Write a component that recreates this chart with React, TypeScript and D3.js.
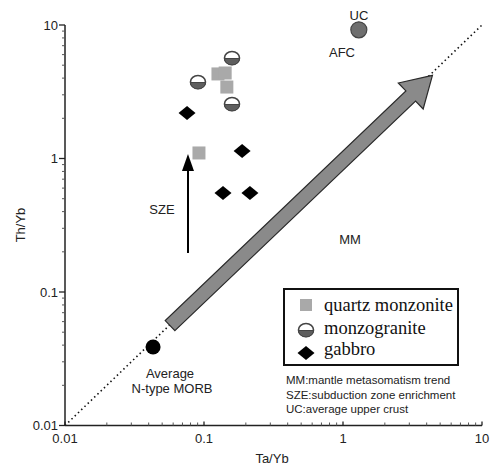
import * as d3 from "d3";

const quartzMonzonite: [number, number][] = [
  [0.126, 4.3],
  [0.142, 4.37],
  [0.146, 3.43],
  [0.092, 1.1],
];
const monzogranite: [number, number][] = [
  [0.159, 5.66],
  [0.0905, 3.74],
  [0.159, 2.56],
];
const gabbro: [number, number][] = [
  [0.0755, 2.19],
  [0.188, 1.14],
  [0.137, 0.552],
  [0.214, 0.552],
];
const upperCrust: [number, number] = [1.3, 9.2];
const nMorb: [number, number] = [0.043, 0.0387];
const mmTrend: [number, number][] = [
  [0.057, 0.056],
  [4.4, 4.2],
];
const szeTrend: [number, number][] = [
  [0.0767, 0.196],
  [0.0767, 1.08],
];
const majorTicks = [0.01, 0.1, 1, 10];
const tickLabels = ["0.01", "0.1", "1", "10"];
const legendItems = ["quartz monzonite", "monzogranite", "gabbro"];
const notes = [
  "MM:mantle metasomatism trend",
  "SZE:subduction zone enrichment",
  "UC:average upper crust",
];

const W = 490;
const H = 468;
const sans = "'Liberation Sans', Arial, sans-serif";
const serif = "'Liberation Serif', 'Times New Roman', serif";

const x = d3.scaleLog().domain([0.01, 10]).range([65, 482]);
const y = d3.scaleLog().domain([0.01, 10]).range([425.5, 25]);

const minorTicks: number[] = [];
[0.01, 0.1, 1].forEach((d) => {
  for (let k = 2; k <= 9; k++) minorTicks.push(d * k);
});

function Square({ cx, cy, s = 13 }: { cx: number; cy: number; s?: number }) {
  return (
    <rect x={cx - s / 2} y={cy - s / 2} width={s} height={s} fill="#a9a9a9" />
  );
}

function HalfDisc({ cx, cy }: { cx: number; cy: number }) {
  const rx = 7.5;
  const ry = 6.5;
  return (
    <g>
      <ellipse cx={cx} cy={cy} rx={rx} ry={ry} fill="#fff" stroke="#444" strokeWidth={1.6} />
      <path
        d={`M${cx - rx},${cy + 0.5} A${rx},${ry} 0 0 0 ${cx + rx},${cy + 0.5} Z`}
        fill="#5e5e5e"
        stroke="#444"
        strokeWidth={1}
      />
    </g>
  );
}

function Diamond({ cx, cy }: { cx: number; cy: number }) {
  const w = 8.5;
  const h = 7;
  return (
    <path
      d={`M${cx - w},${cy} L${cx},${cy - h} L${cx + w},${cy} L${cx},${cy + h} Z`}
      fill="#000"
    />
  );
}

function arrowPath(x0: number, y0: number, x1: number, y1: number) {
  const len = Math.hypot(x1 - x0, y1 - y0);
  const ux = (x1 - x0) / len;
  const uy = (y1 - y0) / len;
  const px = -uy;
  const py = ux;
  const sw = 7;
  const hw = 18;
  const hl = 30;
  const bx = x1 - ux * hl;
  const by = y1 - uy * hl;
  const pts = [
    [x0 + px * sw, y0 + py * sw],
    [bx + px * sw, by + py * sw],
    [bx + px * hw, by + py * hw],
    [x1, y1],
    [bx - px * hw, by - py * hw],
    [bx - px * sw, by - py * sw],
    [x0 - px * sw, y0 - py * sw],
  ];
  return "M" + pts.map((p) => p.join(",")).join("L") + "Z";
}

export default function App() {
  const axisY = y(0.01);
  const axisX = x(0.01);
  const [m0, m1] = mmTrend;
  const [s0, s1] = szeTrend;
  return (
    <svg
      width={W}
      height={H}
      style={{ position: "absolute", left: 0, top: 0, background: "#fff" }}
    >
      <defs>
        <marker id="ah" viewBox="0 0 10 10" refX="9" refY="5" markerWidth="7" markerHeight="9" orient="auto" markerUnits="userSpaceOnUse">
          <path d="M0,0 L10,5 L0,10 Z" fill="#000" />
        </marker>
      </defs>
      {/* 1:1 dotted line */}
      <line
        x1={x(0.01)}
        y1={y(0.01)}
        x2={x(10)}
        y2={y(10)}
        stroke="#111"
        strokeWidth={1.6}
        strokeDasharray="1.5,3"
      />
      {/* MM arrow */}
      <path
        d={arrowPath(x(m0[0]), y(m0[1]), x(m1[0]), y(m1[1]))}
        fill="#8a8a8a"
        stroke="#2a2a2a"
        strokeWidth={1.2}
        strokeLinejoin="miter"
      />
      {/* SZE arrow */}
      <line
        x1={x(s0[0])}
        y1={y(s0[1])}
        x2={x(s1[0])}
        y2={y(s1[1]) + 16}
        stroke="#000"
        strokeWidth={2}
      />
      <path
        d={`M${x(s1[0])},${y(s1[1])} L${x(s1[0]) - 6},${y(s1[1]) + 17} L${x(s1[0]) + 6},${y(s1[1]) + 17} Z`}
        fill="#000"
      />

      {/* axes */}
      <line x1={axisX} y1={y(10)} x2={axisX} y2={axisY} stroke="#222" strokeWidth={1.5} />
      <line x1={axisX} y1={axisY} x2={x(10)} y2={axisY} stroke="#222" strokeWidth={1.5} />
      {majorTicks.map((t, i) => (
        <g key={"maj" + t}>
          <line x1={axisX - 6} x2={axisX} y1={y(t)} y2={y(t)} stroke="#222" strokeWidth={1.3} />
          <line x1={x(t)} x2={x(t)} y1={axisY} y2={axisY - 4} stroke="#222" strokeWidth={1.3} />
          <text x={axisX - 7} y={y(t)} dy="0.35em" textAnchor="end" fontFamily={sans} fontSize={13} fill="#222">
            {tickLabels[i]}
          </text>
          <text x={x(t)} y={axisY + 17} textAnchor="middle" fontFamily={sans} fontSize={13} fill="#222">
            {tickLabels[i]}
          </text>
        </g>
      ))}
      {minorTicks.map((t) => (
        <g key={"min" + t}>
          <line x1={axisX - 3} x2={axisX} y1={y(t)} y2={y(t)} stroke="#555" strokeWidth={1} />
          <line x1={x(t)} x2={x(t)} y1={axisY} y2={axisY - 3} stroke="#555" strokeWidth={1} />
        </g>
      ))}
      <text x={272} y={463} textAnchor="middle" fontFamily={sans} fontSize={13} fill="#222">
        Ta/Yb
      </text>
      <text
        transform="translate(20,225) rotate(-90)"
        textAnchor="middle"
        dy="0.35em"
        fontFamily={sans}
        fontSize={13}
        fill="#222"
      >
        Th/Yb
      </text>

      {/* reference points */}
      <circle cx={x(upperCrust[0])} cy={y(upperCrust[1])} r={8} fill="#6f6f6f" stroke="#444" strokeWidth={1.2} />
      <circle cx={x(nMorb[0])} cy={y(nMorb[1])} r={7.5} fill="#000" />

      {/* data */}
      {quartzMonzonite.map((d, i) => (
        <Square key={"q" + i} cx={x(d[0])} cy={y(d[1])} />
      ))}
      {monzogranite.map((d, i) => (
        <HalfDisc key={"m" + i} cx={x(d[0])} cy={y(d[1])} />
      ))}
      {gabbro.map((d, i) => (
        <Diamond key={"g" + i} cx={x(d[0])} cy={y(d[1])} />
      ))}

      {/* annotations */}
      <g fontFamily={sans} fontSize={13} fill="#222" textAnchor="middle">
        <text x={359} y={20}>UC</text>
        <text x={342} y={57}>AFC</text>
        <text x={162} y={214}>SZE</text>
        <text x={350} y={244}>MM</text>
        <text x={170} y={378}>Average</text>
        <text x={172} y={393}>N-type MORB</text>
      </g>

      {/* legend */}
      <rect x={284} y={289} width={174} height={76} fill="#fff" stroke="#111" strokeWidth={2} />
      <Square cx={306} cy={305} s={12} />
      <HalfDisc cx={306} cy={330} />
      <Diamond cx={306} cy={353} />
      {legendItems.map((t, i) => (
        <text key={t} x={324} y={[305, 328, 349][i]} dy="0.32em" fontFamily={serif} fontSize={18.5} fill="#111">
          {t}
        </text>
      ))}
      {notes.map((t, i) => (
        <text key={t} x={286} y={384 + i * 14.5} fontFamily={sans} fontSize={11.5} fill="#222">
          {t}
        </text>
      ))}
    </svg>
  );
}
